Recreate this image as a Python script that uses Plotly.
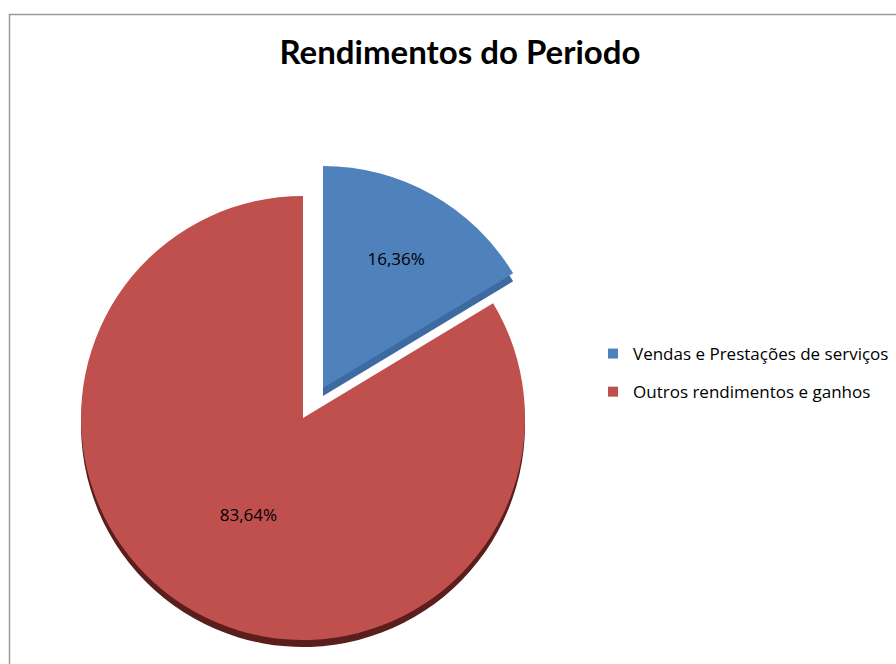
import plotly.graph_objects as go

# ---- data ----
categories = ["Vendas e Prestações de serviços", "Outros rendimentos e ganhos"]
values = [16.36, 83.64]
colors = ["#4f81bd", "#c0504d"]
edge_colors = ["#3d6aa0", "#5a1e1c"]
title_text = "Rendimentos do Periodo"

W, H = 896, 664
FONT = "Lato"
FONT2 = "Open Sans"

def fx(px):
    return px / W

def fy(py):
    return 1 - py / H

def dom(cx, cy, r):
    return dict(x=[fx(cx - r), fx(cx + r)], y=[fy(cy + r), fy(cy - r)])

R = 222
red_c = (303, 418)
blue_c = (323, 388)
CLEAR = "rgba(0,0,0,0)"

fig = go.Figure()

def add_pie(center, shown_idx, col, with_text, dy=0):
    cols = [CLEAR] * len(values)
    cols[shown_idx] = col
    tmpl = [""] * len(values)
    if with_text:
        tmpl[shown_idx] = "%{percent:.2%}"
    fig.add_trace(go.Pie(
        labels=categories, values=values, sort=False, direction="clockwise",
        rotation=0, marker=dict(colors=cols, line=dict(width=0)),
        texttemplate=tmpl, textposition="inside", insidetextorientation="horizontal",
        insidetextfont=dict(color="#000000", size=17, family=FONT2),
        domain=dom(center[0], center[1] + dy, R), showlegend=False,
        hoverinfo="skip"))

# shadows / thickness
add_pie(red_c, 1, edge_colors[1], False, dy=7)
add_pie(blue_c, 0, edge_colors[0], False, dy=8)
# faces
add_pie(red_c, 1, colors[1], True)
add_pie(blue_c, 0, colors[0], True)

# legend entries
for i, (name, c) in enumerate(zip(categories, colors)):
    fig.add_trace(go.Scatter(x=[None], y=[None], mode="markers", name=name,
                             legendgroup=f"g{i}",
                             marker=dict(symbol="square", size=10, color=c)))

fig.update_layout(
    width=W, height=H,
    margin=dict(l=0, r=0, t=0, b=0),
    paper_bgcolor="white", plot_bgcolor="white",
    separators=",.",
    font=dict(family=FONT2, color="#000000"),
    title=dict(text="<b>" + title_text + "</b>", x=fx(460), xanchor="center",
               y=fy(52), yanchor="middle", font=dict(size=33, family=FONT, color="#000000")),
    xaxis=dict(visible=False), yaxis=dict(visible=False),
    legend=dict(x=fx(593), y=fy(373), xanchor="left", yanchor="middle",
                font=dict(size=17, family=FONT2, color="#000000"),
                tracegroupgap=13, bgcolor="rgba(0,0,0,0)"),
    shapes=[dict(type="rect", xref="paper", yref="paper",
                 x0=fx(9.5), x1=1.2, y0=-0.2, y1=fy(14.5),
                 line=dict(color="#9a9a9a", width=1.5), fillcolor="rgba(0,0,0,0)",
                 layer="below")],
)

fig.write_html("out.html")
